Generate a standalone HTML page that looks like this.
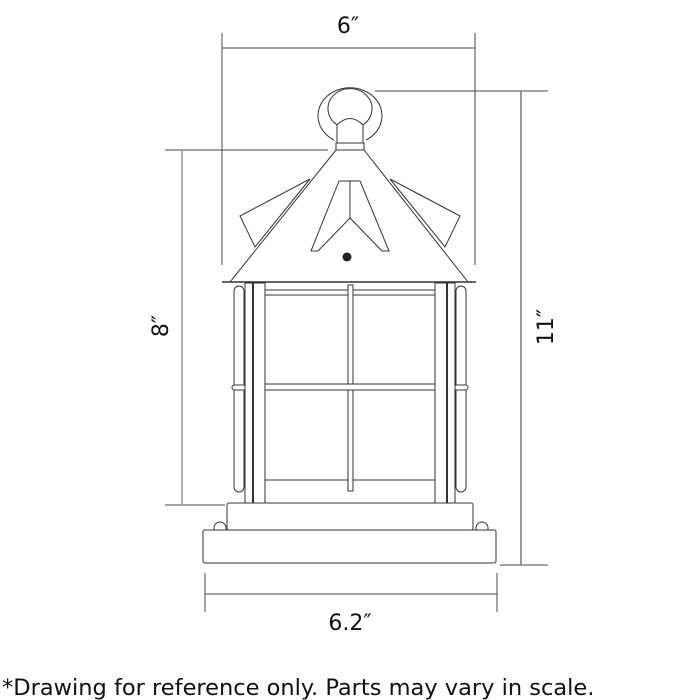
<!DOCTYPE html>
<html><head><style>
html,body{margin:0;padding:0;background:#fff;width:700px;height:700px;overflow:hidden}
svg{display:block}
text{font-family:"DejaVu Sans","Liberation Sans",sans-serif;fill:#111}
</style></head><body>
<svg width="700" height="700" viewBox="0 0 700 700" xmlns="http://www.w3.org/2000/svg">
<g stroke="#444" stroke-width="1" fill="none">
<line x1="222" y1="33" x2="222" y2="265"/>
<line x1="475" y1="33" x2="475" y2="265"/>
<line x1="222" y1="48" x2="475" y2="48"/>
<line x1="375" y1="91" x2="548" y2="91"/>
<line x1="500" y1="565" x2="548" y2="565"/>
<line x1="521" y1="91" x2="521" y2="565" stroke="#777" stroke-width="1.5"/>
<line x1="165" y1="150" x2="328" y2="150"/>
<line x1="165" y1="505" x2="225" y2="505"/>
<line x1="182" y1="150" x2="182" y2="505" stroke="#aaa" stroke-width="2"/>
<line x1="205" y1="573" x2="205" y2="612"/>
<line x1="497" y1="573" x2="497" y2="612"/>
<line x1="205" y1="594" x2="497" y2="594"/>
</g>
<g stroke="#333" stroke-width="1" fill="#fff">
<path d="M334,140 A32,28 0 1,1 366,140" />
<path d="M339,126 A22,20 0 1,1 361,126" />
<path d="M337,145 L337,125 Q350,112 363,125 L363,145 Z"/>
<rect x="336" y="143" width="28" height="7"/>
<polygon points="310,179 240,216 255,247"/>
<polygon points="390,179 460,216 445,247"/>
<polygon points="336,150 364,150 468,282 230,282"/>
<line x1="222" y1="282" x2="476" y2="282" stroke-width="1.5"/>
<polygon points="339,181 311,251 318,251 350,218 382,251 389,251 360,181 350,181"/>
<line x1="350" y1="181" x2="350" y2="218"/>
</g>
<circle cx="347" cy="257" r="4.5" fill="#222"/>
<g stroke="#333" stroke-width="1" fill="#fff">
<rect x="234" y="286" width="10" height="206" rx="5"/>
<rect x="456" y="286" width="10" height="206" rx="5"/>
<rect x="232" y="385" width="14" height="5" rx="2.5"/>
<rect x="454" y="385" width="14" height="5" rx="2.5"/>
<rect x="265" y="290" width="170" height="5"/>
<line x1="265" y1="480" x2="435" y2="480"/>
<rect x="348" y="285" width="5" height="206"/>
<rect x="257" y="384" width="186" height="6" rx="3"/>
<rect x="245" y="283" width="20" height="220"/>
<rect x="435" y="283" width="20" height="220"/>
<line x1="253" y1="283" x2="253" y2="503" stroke-width="2"/>
<line x1="447" y1="283" x2="447" y2="503" stroke-width="2"/>
<circle cx="220" cy="528" r="6"/>
<circle cx="482" cy="528" r="6"/>
<rect x="227" y="503" width="246" height="27" rx="2"/>
<rect x="203" y="530" width="293" height="33" rx="2"/>
</g>
<text x="348" y="33" font-size="22" text-anchor="middle">6″</text>
<text x="350" y="630" font-size="22" text-anchor="middle">6.2″</text>
<text transform="translate(168,326) rotate(-90)" font-size="22" text-anchor="middle">8″</text>
<text transform="translate(553,327) rotate(-90)" font-size="22" text-anchor="middle">11″</text>
<text x="2" y="695" font-size="22.5">*Drawing for reference only. Parts may vary in scale.</text>
</svg>
</body></html>
